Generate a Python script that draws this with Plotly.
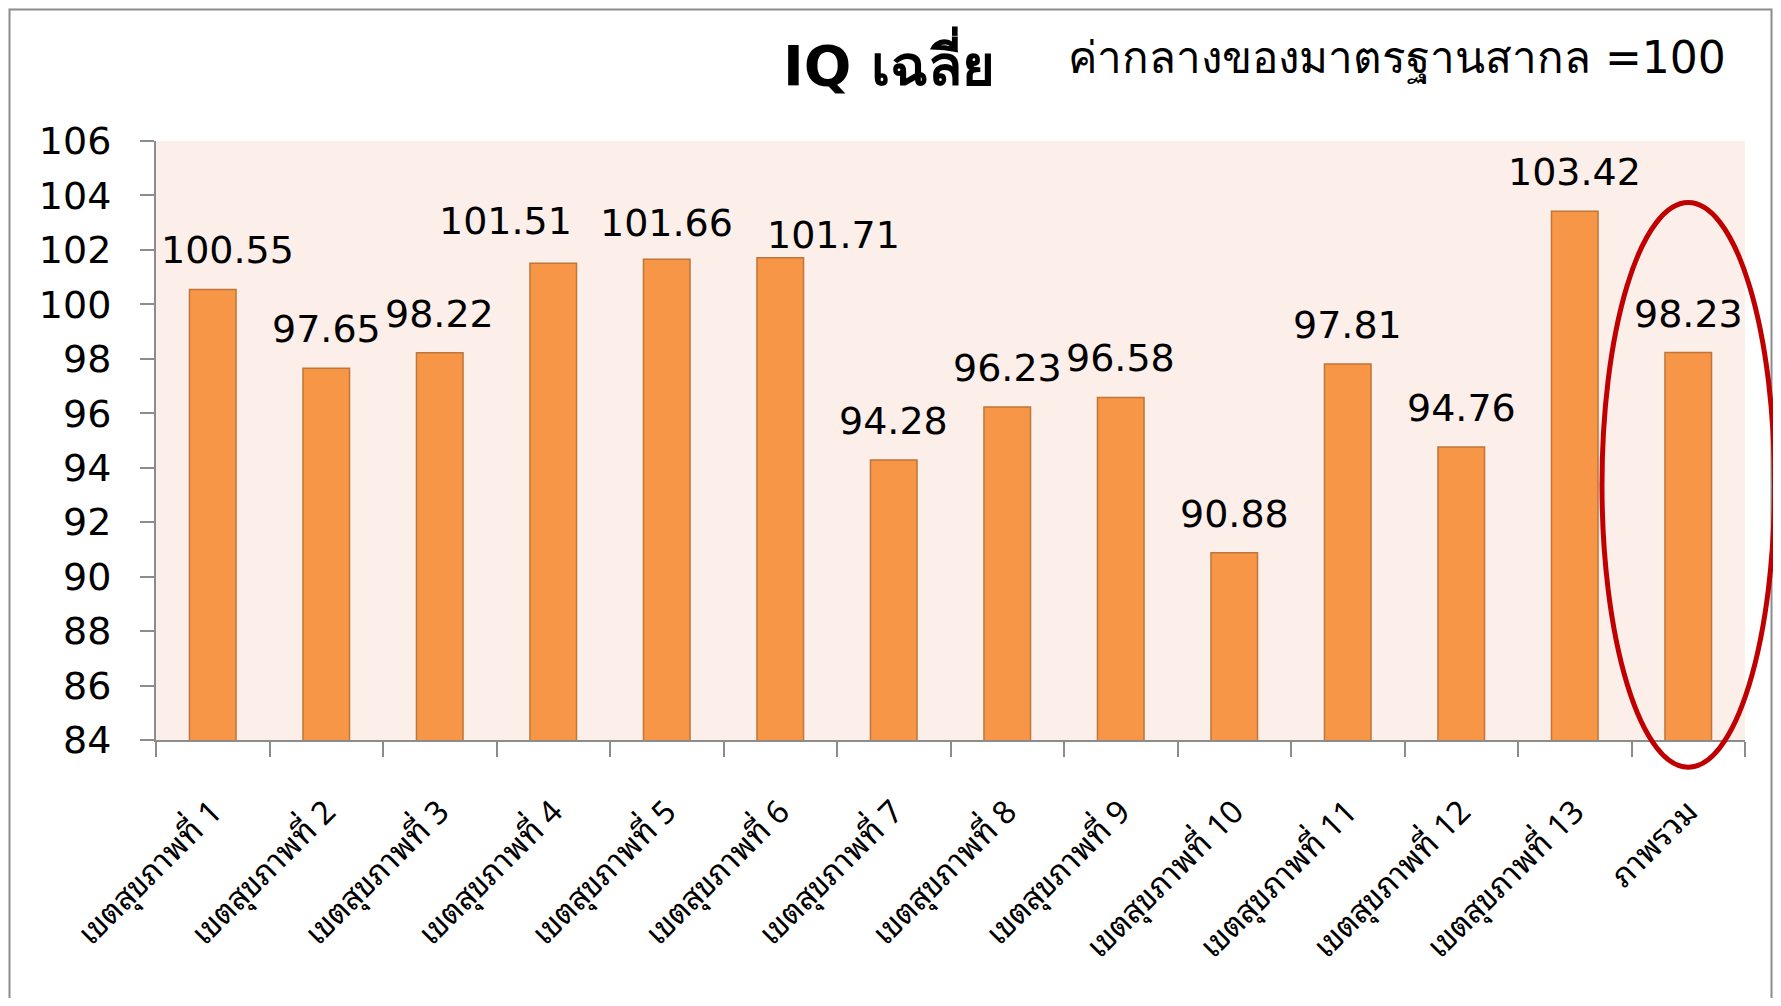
import plotly.graph_objects as go

categories = ["เขตสุขภาพที่ 1", "เขตสุขภาพที่ 2", "เขตสุขภาพที่ 3", "เขตสุขภาพที่ 4",
              "เขตสุขภาพที่ 5", "เขตสุขภาพที่ 6", "เขตสุขภาพที่ 7", "เขตสุขภาพที่ 8",
              "เขตสุขภาพที่ 9", "เขตสุขภาพที่ 10", "เขตสุขภาพที่ 11", "เขตสุขภาพที่ 12",
              "เขตสุขภาพที่ 13", "ภาพรวม"]
iq_values = [100.55, 97.65, 98.22, 101.51, 101.66, 101.71, 94.28, 96.23,
             96.58, 90.88, 97.81, 94.76, 103.42, 98.23]
y_ticks = [84, 86, 88, 90, 92, 94, 96, 98, 100, 102, 104, 106]

# label nudges (pixels) for data labels that were moved in the original
label_dx = {0: 15, 3: -48, 5: 53}
label_dy = {3: 3, 4: -3, 5: -16}

# page body has an 8px margin; size the figure to fit inside the window
OFF = 8
W, H = 1781 - 2 * OFF, 1006 - 2 * OFF
ML = 156 - OFF
MT = 141 - OFF
MR = W - (1745 - OFF)
MB = H - (740.5 - OFF)
plot_w = W - ML - MR
plot_h = H - MT - MB

FONT = "Tahoma, 'DejaVu Sans', 'Noto Sans', sans-serif"
THAI_FONT = "Tahoma, 'Noto Sans Thai Looped', Loma, 'DejaVu Sans', sans-serif"


def px_x(px):
    return (px - OFF - ML) / plot_w


def px_y(py):
    return 1 - (py - OFF - MT) / plot_h


fig = go.Figure()
fig.add_trace(go.Bar(
    x=categories, y=iq_values,
    marker=dict(color="#F79646", line=dict(color="#BE763A", width=1.5)),
    width=0.41, hoverinfo="x+y",
))

for i, (c, v) in enumerate(zip(categories, iq_values)):
    fig.add_annotation(x=c, y=v, text=f"{v:.2f}", showarrow=False,
                       xanchor="center", yanchor="middle",
                       xshift=label_dx.get(i, 0), yshift=39 + label_dy.get(i, 0),
                       font=dict(family=FONT, size=38, color="black"))

# Title texts
fig.add_annotation(xref="paper", yref="paper", x=px_x(781), y=px_y(62),
                   xanchor="left", yanchor="middle", showarrow=False,
                   text="<b>IQ เฉลี่ย</b>", font=dict(family=FONT, size=56, color="black"))
fig.add_annotation(xref="paper", yref="paper", x=px_x(1066), y=px_y(58),
                   xanchor="left", yanchor="middle", showarrow=False,
                   text="ค่ากลางของมาตรฐานสากล =100", font=dict(family=FONT, size=44, color="black"))

# red ellipse around the overall bar
n = len(categories)
ci = n - 1
y_lo, y_hi = y_ticks[0], y_ticks[-1]
fig.add_shape(type="circle", xref="x domain", yref="y domain",
              x0=(ci + 0.5 - 0.76) / n, x1=(ci + 0.5 + 0.76) / n,
              y0=(83.0 - y_lo) / (y_hi - y_lo), y1=(103.74 - y_lo) / (y_hi - y_lo),
              line=dict(color="#C00000", width=5), layer="above")

# outer frame
fig.add_shape(type="rect", xref="paper", yref="paper",
              x0=px_x(9.5), x1=px_x(1771.5), y0=px_y(1100), y1=px_y(9.5),
              line=dict(color="#8C8C8C", width=2), layer="below")

fig.update_layout(
    width=W, height=H,
    margin=dict(l=ML, r=MR, t=MT, b=MB),
    paper_bgcolor="white", plot_bgcolor="#FCEEE9",
    showlegend=False, bargap=0.59,
    font=dict(family=FONT, color="black"),
)
fig.update_yaxes(range=[y_lo, y_hi], tickvals=y_ticks, ticks="outside", ticklen=14,
                 tickcolor="#8C8C8C", tickwidth=2, showline=True, linecolor="#8C8C8C",
                 linewidth=2, showgrid=False, zeroline=False, ticklabelstandoff=21,
                 tickfont=dict(family=FONT, size=38, color="black"))
fig.update_xaxes(ticks="outside", ticklen=15, tickson="boundaries", tickcolor="#8C8C8C",
                 tickwidth=2, showline=True, linecolor="#8C8C8C", linewidth=2,
                 showgrid=False, tickangle=-45, ticklabelstandoff=38,
                 tickfont=dict(family=THAI_FONT, size=32, color="black"))

fig.write_html("out.html")
